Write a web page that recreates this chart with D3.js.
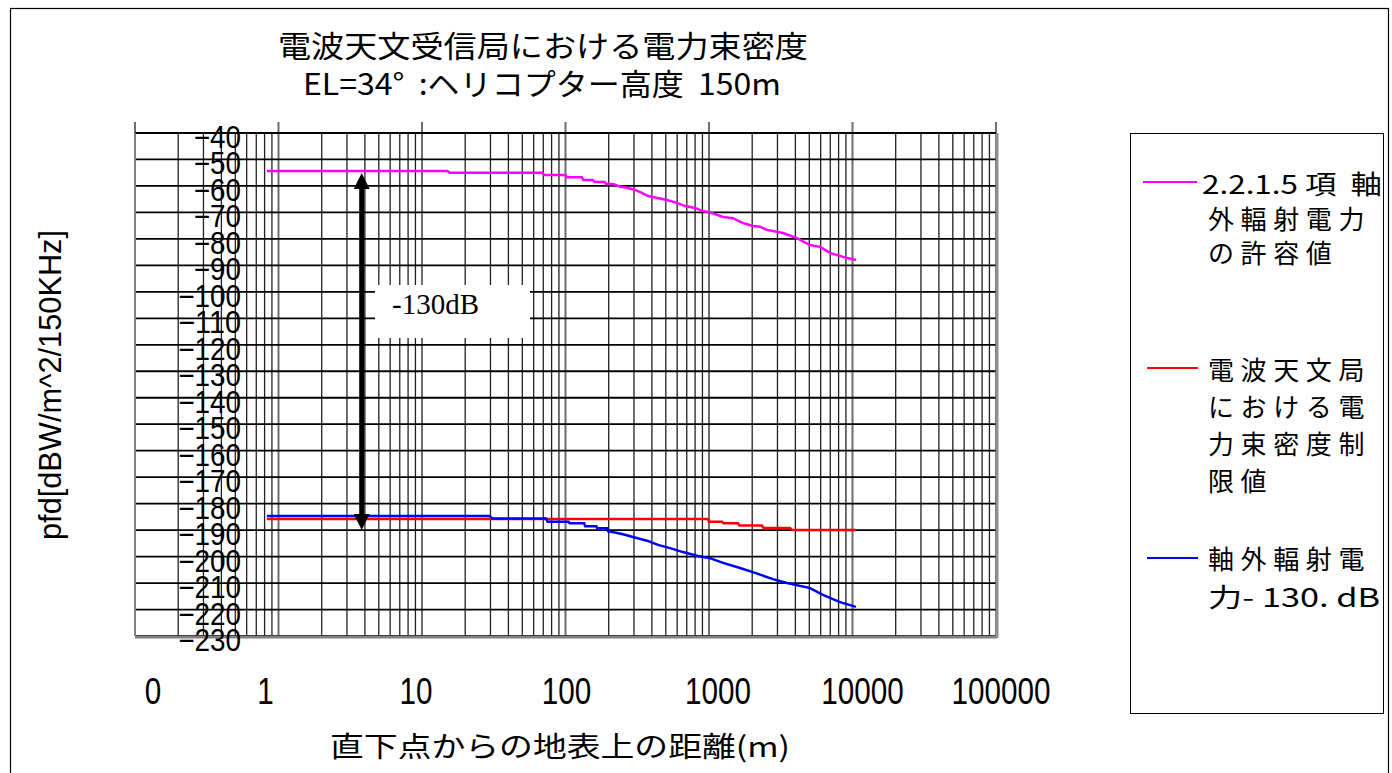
<!DOCTYPE html>
<html><head><meta charset="utf-8">
<script src="https://cdn.jsdelivr.net/npm/d3@7"></script>
<style>html,body{margin:0;padding:0;background:#fff;} svg{display:block}</style>
</head><body>
<svg id="chart" width="1392" height="773"></svg>
<script>
// ---------- data ----------
const titleLines = ["電波天文受信局における電力束密度", "EL=34°\u00a0\u00a0:ヘリコプター高度\u00a0\u00a0150m"];
const xTitle = "直下点からの地表上の距離(m)";
const yTitle = "pfd[dBW/m^2/150KHz]";
const xTickValues = [0.1, 1, 10, 100, 1000, 10000, 100000];
const xTickLabels = ["0", "1", "10", "100", "1000", "10000", "100000"];
const yTickValues = [-40, -50, -60, -70, -80, -90, -100, -110, -120, -130, -140, -150, -160, -170, -180, -190, -200, -210, -220, -230];

const seriesNames = ["2.2.1.5 項\u3000軸外輻射電力の許容値", "電波天文局における電力束密度制限値", "軸外輻射電力- 130. dB"];
const legendLines = [
  ["2.2.1.5 項\u00a0\u00a0軸", "外輻射電力", "の許容値"],
  ["電波天文局", "における電", "力束密度制", "限値"],
  ["軸外輻射電", "力- 130. dB"]
];

const magentaDist = [0.83, 15, 15.6, 69, 71, 100, 102, 130, 133, 155, 160, 188, 192, 214, 240, 273, 305, 340, 376, 510, 598, 680, 798, 908, 1016, 1253, 1469, 1726, 2027, 2265, 2535, 3280, 4105, 5055, 5940, 6970, 8590, 10570];
const magentaPfd  = [-54.4, -54.4, -55.0, -55.0, -55.9, -55.9, -56.7, -56.7, -57.8, -57.8, -58.5, -58.5, -59.3, -59.3, -60.2, -60.8, -61.5, -62.6, -63.8, -65.3, -66.4, -67.6, -68.3, -69.5, -70.0, -71.7, -72.2, -74.0, -75.1, -75.4, -76.6, -77.8, -79.7, -82.3, -83.0, -85.3, -86.8, -88.0];

const redDist = [0.83, 985, 1000, 1233, 1260, 1592, 1630, 2340, 2400, 3665, 3800, 10570];
const redPfd  = [-185.8, -185.8, -186.8, -186.8, -187.4, -187.4, -188.3, -188.3, -189.2, -189.2, -190.0, -190.0];

const blueDist = [0.83, 29.5, 31, 73, 75, 105, 107, 135, 137, 164, 166, 196, 198, 248, 295, 370, 441, 535, 659, 838, 1016, 1253, 1645, 1995, 2793, 3500, 5060, 6220, 8185, 10570];
const bluePfd  = [-184.7, -184.7, -185.6, -185.6, -186.8, -186.8, -187.4, -187.4, -188.5, -188.5, -189.3, -189.3, -190.4, -191.5, -192.6, -194.0, -195.6, -196.8, -198.3, -199.8, -200.6, -202.4, -204.3, -205.8, -208.5, -210.0, -211.9, -214.5, -217.2, -219.0];

const seriesColors = ["#ff00ff", "#ff0000", "#0000ff"];

// annotation: -130 dB arrow
const arrowDist = 3.8;
const arrowTop = -55.1;
const arrowBottom = -190.0;
const arrowLabel = "-130dB";

// ---------- layout ----------
const svg = d3.select("#chart");
const L = 135, R = 996, T = 133, B = 636;
const x = d3.scaleLog().domain([0.1, 100000]).range([L, R]);
const y = d3.scaleLinear().domain([-40, -230]).range([T, B]);
const xLabelNudge = [18, -13, -6, 1, 9, 10, 5];

// outer frame
svg.append("rect").attr("x", 10.5).attr("y", 8.5).attr("width", 1378).attr("height", 790)
  .attr("fill", "none").attr("stroke", "#000").attr("stroke-width", 1.2);

// vertical gridlines (log minor/major)
const vLines = [];
xTickValues.slice(0, -1).forEach(d => { for (let k = 1; k <= 9; k++) vLines.push({v: d * k, major: k === 1}); });
vLines.push({v: 100000, major: true});
const grid = svg.append("g");
grid.selectAll(".vg").data(vLines).enter().append("line")
  .attr("x1", d => x(d.v)).attr("x2", d => x(d.v))
  .attr("y1", d => d.major ? T - 11 : T).attr("y2", B)
  .attr("stroke", d => d.major ? "#6e6e6e" : "#222")
  .attr("stroke-width", d => d.major ? 2 : 1.3);

// horizontal gridlines
grid.selectAll(".hg").data(yTickValues).enter().append("line")
  .attr("x1", L).attr("x2", R)
  .attr("y1", d => y(d)).attr("y2", d => y(d))
  .attr("stroke", "#000").attr("stroke-width", 1.8);

// plot border
svg.append("line").attr("x1", L).attr("x2", L).attr("y1", T).attr("y2", B).attr("stroke", "#808080").attr("stroke-width", 2);
svg.append("line").attr("x1", L).attr("x2", R + 1).attr("y1", B + 1).attr("y2", B + 1).attr("stroke", "#808080").attr("stroke-width", 3);
svg.append("line").attr("x1", R + 1).attr("x2", R + 1).attr("y1", T).attr("y2", B + 2).attr("stroke", "#909090").attr("stroke-width", 3);

// -130dB label box
svg.append("rect").attr("x", 375).attr("y", 285).attr("width", 155).attr("height", 53).attr("fill", "#fff");
svg.append("text").attr("x", 392).attr("y", 314)
  .attr("font-family", "'Liberation Serif', 'DejaVu Serif', serif").attr("font-size", 29)
  .attr("fill", "#000").text(arrowLabel);

// series lines
const seriesData = [
  d3.zip(magentaDist, magentaPfd),
  d3.zip(redDist, redPfd),
  d3.zip(blueDist, bluePfd)
];
const line = d3.line().x(d => x(d[0])).y(d => y(d[1]));
[0, 1, 2].forEach(i => {
  svg.append("path").datum(seriesData[i]).attr("d", line)
    .attr("fill", "none").attr("stroke", seriesColors[i]).attr("stroke-width", 2.5);
});

// arrow
const ax = x(arrowDist), ay1 = y(arrowTop), ay2 = y(arrowBottom);
const ah = 16, aw = 8;
svg.append("line").attr("x1", ax).attr("x2", ax).attr("y1", ay1 + ah - 2).attr("y2", ay2 - ah + 2)
  .attr("stroke", "#000").attr("stroke-width", 5);
svg.append("path").attr("d", `M${ax},${ay1} L${ax - aw},${ay1 + ah} L${ax + aw},${ay1 + ah} Z`).attr("fill", "#000");
svg.append("path").attr("d", `M${ax},${ay2} L${ax - aw},${ay2 - ah} L${ax + aw},${ay2 - ah} Z`).attr("fill", "#000");

// y tick labels
svg.append("g").selectAll("text").data(yTickValues).enter().append("text")
  .attr("x", 241).attr("y", d => y(d) + 15)
  .attr("text-anchor", "end")
  .attr("font-family", "'Liberation Sans', Arial, sans-serif").attr("font-size", 31)
  .attr("textLength", d => 16 + String(Math.abs(d)).length * 15.6)
  .attr("lengthAdjust", "spacingAndGlyphs")
  .attr("fill", "#000")
  .text(d => "\u2212" + Math.abs(d));

// x tick labels
svg.append("g").selectAll("text").data(xTickValues).enter().append("text")
  .attr("x", (d, i) => x(d) + xLabelNudge[i]).attr("y", 704)
  .attr("text-anchor", "middle")
  .attr("font-family", "'Liberation Sans', Arial, sans-serif").attr("font-size", 37)
  .attr("textLength", (d, i) => xTickLabels[i].length * 16.5)
  .attr("lengthAdjust", "spacingAndGlyphs")
  .attr("fill", "#000")
  .text((d, i) => xTickLabels[i]);

// titles
const cjk = "'Noto Sans CJK JP', 'Noto Sans CJK SC', sans-serif";
svg.append("text").attr("x", 543).attr("y", 44).attr("text-anchor", "middle").attr("dominant-baseline", "central")
  .attr("font-family", cjk).attr("font-size", 30).attr("textLength", 530).attr("lengthAdjust", "spacingAndGlyphs")
  .text(titleLines[0]);
svg.append("text").attr("x", 542).attr("y", 82).attr("text-anchor", "middle").attr("dominant-baseline", "central")
  .attr("font-family", cjk).attr("font-size", 30).attr("textLength", 478).attr("lengthAdjust", "spacingAndGlyphs")
  .text(titleLines[1]);

// axis titles
svg.append("text").attr("x", 560).attr("y", 745).attr("text-anchor", "middle").attr("dominant-baseline", "central")
  .attr("font-family", cjk).attr("font-size", 28).attr("textLength", 460).attr("lengthAdjust", "spacingAndGlyphs")
  .text(xTitle);
svg.append("text").attr("transform", "translate(50,385) rotate(-90)")
  .attr("text-anchor", "middle").attr("dominant-baseline", "central")
  .attr("font-family", "'Liberation Sans', Arial, sans-serif").attr("font-size", 32)
  .attr("textLength", 310).attr("lengthAdjust", "spacingAndGlyphs")
  .text(yTitle);

// legend
svg.append("rect").attr("x", 1130.5).attr("y", 133.5).attr("width", 253).attr("height", 580)
  .attr("fill", "#fff").attr("stroke", "#000").attr("stroke-width", 1);
const legendSampleY = [182, 368, 558];
const legendLineY = [[182, 217, 251], [368, 405, 442, 479], [557, 595]];
const legendSampleX = [[1143, 1197], [1147, 1198], [1147, 1198]];
const legendFixedWidth = {"0-0": [1202, 180], "2-1": [1208, 172]};
legendLines.forEach((lines, i) => {
  svg.append("line").attr("x1", legendSampleX[i][0]).attr("x2", legendSampleX[i][1])
    .attr("y1", legendSampleY[i]).attr("y2", legendSampleY[i])
    .attr("stroke", seriesColors[i]).attr("stroke-width", 2);
  lines.forEach((t, j) => {
    const fw = legendFixedWidth[i + "-" + j];
    const tx = svg.append("text").attr("x", fw ? fw[0] : 1208).attr("y", legendLineY[i][j])
      .attr("dominant-baseline", "central")
      .attr("font-family", cjk).attr("font-size", 26)
      .attr("fill", "#000").text(t);
    if (fw) tx.attr("textLength", fw[1]).attr("lengthAdjust", "spacingAndGlyphs");
    else tx.attr("letter-spacing", 6.6);
  });
});
</script>
</body></html>
